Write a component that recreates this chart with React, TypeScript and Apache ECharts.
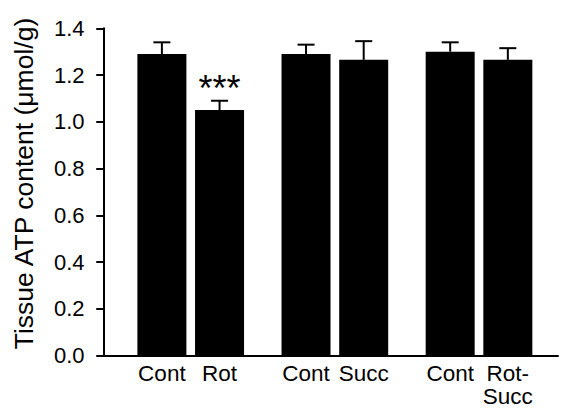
import React, { useEffect, useRef } from "react";
import * as echarts from "echarts";

const categories = ["Cont", "Rot", "Cont", "Succ", "Cont", "Rot-\nSucc"];
const xPositions = [1, 2, 3.5, 4.5, 6, 7];
const means = [1.29, 1.05, 1.29, 1.265, 1.3, 1.265];
const sems = [0.05, 0.04, 0.04, 0.08, 0.04, 0.05];
const stars = ["", "***", "", "", "", ""];
const yTicks = [0, 0.2, 0.4, 0.6, 0.8, 1.0, 1.2, 1.4];
const yTitle = "Tissue ATP content (\u03bcmol/g)";

const FONT = "Liberation Sans, Arial, sans-serif";

export default function App() {
  const ref = useRef<HTMLDivElement>(null);
  useEffect(() => {
    if (!ref.current) return;
    const chart = echarts.init(ref.current, undefined, { renderer: "svg" });
    const barData = means.map((m, i) => [xPositions[i], m]);
    const errData = means.map((m, i) => [xPositions[i], m, sems[i], i]);
    chart.setOption({
      animation: false,
      backgroundColor: "#fff",
      textStyle: { fontFamily: FONT },
      grid: { left: 102.5, right: 3, top: 28.3, bottom: 56.5, containLabel: false },
      graphic: [
        {
          type: "text",
          x: 24,
          y: 183.5,
          rotation: Math.PI / 2,
          style: {
            text: yTitle,
            fill: "#000",
            fontSize: 26.5,
            fontFamily: FONT,
            align: "center",
            verticalAlign: "middle",
          },
        },
      ],
      xAxis: {
        type: "value",
        min: -0.03,
        max: 7.87,
        splitLine: { show: false },
        axisTick: { show: false },
        axisLine: { show: true, onZero: false, lineStyle: { color: "#000", width: 2 } },
        axisLabel: {
          customValues: xPositions,
          margin: 6,
          color: "#000",
          fontSize: 22.5,
          lineHeight: 23,
          fontFamily: FONT,
          formatter: (v: number) => {
            const i = xPositions.findIndex((p) => Math.abs(p - v) < 1e-6);
            return i >= 0 ? categories[i] : "";
          },
        },
      },
      yAxis: {
        type: "value",
        min: 0,
        max: yTicks[yTicks.length - 1],
        interval: 0.2,
        splitLine: { show: false },
        axisLine: { show: true, lineStyle: { color: "#000", width: 2 } },
        axisTick: { show: true, length: 8, inside: false, lineStyle: { color: "#000", width: 2 } },
        axisLabel: {
          color: "#000",
          fontSize: 22,
          margin: 18,
          fontFamily: FONT,
          formatter: (v: number) => v.toFixed(1),
        },
      },
      series: [
        {
          type: "bar",
          data: barData,
          barWidth: 49,
          itemStyle: { color: "#000" },
          z: 2,
        },
        {
          type: "custom",
          data: errData,
          z: 3,
          renderItem: (params: any, api: any) => {
            const x = api.value(0);
            const m = api.value(1);
            const e = api.value(2);
            const idx = api.value(3);
            const base = api.coord([x, m]);
            const top = api.coord([x, m + e]);
            const cap = 8.5;
            const children: any[] = [
              {
                type: "line",
                shape: { x1: base[0], y1: base[1], x2: top[0], y2: top[1] },
                style: { stroke: "#000", lineWidth: 2 },
              },
              {
                type: "line",
                shape: { x1: top[0] - cap, y1: top[1], x2: top[0] + cap, y2: top[1] },
                style: { stroke: "#000", lineWidth: 2 },
              },
            ];
            const s = stars[idx];
            if (s) {
              children.push({
                type: "text",
                x: top[0],
                y: top[1] - 12.4,
                style: {
                  text: s,
                  fill: "#000",
                  fontSize: 36,
                  fontFamily: FONT,
                  align: "center",
                  verticalAlign: "middle",
                },
              });
            }
            return { type: "group", children };
          },
        },
      ],
    });
    return () => chart.dispose();
  }, []);
  return (
    <div
      ref={ref}
      style={{ position: "fixed", left: 0, top: 0, width: 561, height: 412 }}
    />
  );
}
